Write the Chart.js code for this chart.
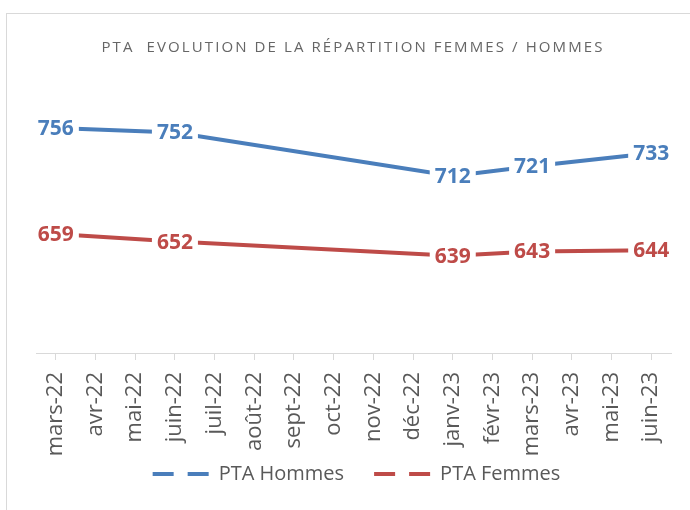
<!DOCTYPE html>
<html>
<head>
<meta charset="utf-8">
<script src="https://cdn.jsdelivr.net/npm/chart.js@4.4.1/dist/chart.umd.min.js"></script>
<style>
  html, body { margin: 0; padding: 0; background: #fff; }
  #wrap { position: absolute; left: 0; top: 0; width: 690px; height: 510px; }
</style>
</head>
<body>
<div id="wrap"><canvas id="chart"></canvas></div>
<script>
// Mois (axe des x)
var mois = ['mars-22', 'avr-22', 'mai-22', 'juin-22', 'juil-22', 'août-22', 'sept-22', 'oct-22',
            'nov-22', 'déc-22', 'janv-23', 'févr-23', 'mars-23', 'avr-23', 'mai-23', 'juin-23'];

// Effectifs (null = pas de relevé ce mois-là)
var hommes = [756, null, null, 752, null, null, null, null, null, null, 712, null, 721, null, null, 733];
var femmes = [659, null, null, 652, null, null, null, null, null, null, 639, null, 643, null, null, 644];

var titre = 'PTA  EVOLUTION DE LA RÉPARTITION FEMMES / HOMMES';

var bleu = '#4A7EBB';
var rouge = '#BE4B48';

// Cadre gris clair + titre
var cadrePlugin = {
    id: 'cadre',
    beforeDraw: function (chart) {
        var ctx = chart.ctx;
        ctx.save();
        ctx.strokeStyle = '#d9d9d9';
        ctx.lineWidth = 1;
        ctx.strokeRect(6.5, 13.5, 720, 600);
        ctx.fillStyle = '#666666';
        ctx.font = '15px "Open Sans"';
        ctx.textAlign = 'center';
        ctx.textBaseline = 'alphabetic';
        ctx.letterSpacing = '2.1px';
        ctx.fillText(titre, 353, 52);
        ctx.restore();
    }
};

// les libellés de l'axe x débordent sur la zone de la légende : on élargit la zone de découpe
var debordPlugin = {
    id: 'debord',
    afterLayout: function (chart) {
        chart.scales.x.bottom = chart.height;
    }
};

// Étiquettes de valeurs centrées sur les points, fond blanc
var etiquettesPlugin = {
    id: 'etiquettes',
    afterDatasetsDraw: function (chart) {
        var ctx = chart.ctx;
        ctx.save();
        ctx.font = 'bold 21px "Open Sans"';
        ctx.textAlign = 'center';
        ctx.textBaseline = 'middle';
        chart.data.datasets.forEach(function (ds, i) {
            var meta = chart.getDatasetMeta(i);
            meta.data.forEach(function (pt, j) {
                var v = ds.data[j];
                if (v === null) return;
                var txt = String(v);
                var w = ctx.measureText(txt).width;
                ctx.fillStyle = '#ffffff';
                ctx.fillRect(pt.x - w / 2 - 5, pt.y - 12, w + 10, 24);
                ctx.fillStyle = ds.borderColor;
                ctx.fillText(txt, pt.x, pt.y + 1);
            });
        });
        ctx.restore();
    }
};

var ctx = document.getElementById('chart').getContext('2d');

new Chart(ctx, {
    type: 'line',
    data: {
        labels: mois,
        datasets: [
            {
                label: 'PTA Hommes',
                data: hommes,
                borderColor: bleu,
                backgroundColor: bleu,
                borderWidth: 4,
                pointRadius: 0,
                spanGaps: true,
                tension: 0
            },
            {
                label: 'PTA Femmes',
                data: femmes,
                borderColor: rouge,
                backgroundColor: rouge,
                borderWidth: 4,
                pointRadius: 0,
                spanGaps: true,
                tension: 0
            }
        ]
    },
    options: {
        responsive: true,
        maintainAspectRatio: false,
        animation: false,
        layout: {
            padding: { top: 80, left: 36, right: 13, bottom: 16 }
        },
        plugins: {
            title: { display: false },
            tooltip: { enabled: false },
            legend: {
                position: 'bottom',
                labels: {
                    usePointStyle: true,
                    pointStyleWidth: 56,
                    boxHeight: 20,
                    padding: 30,
                    color: '#595959',
                    font: { family: '"Open Sans"', size: 20 },
                    generateLabels: function (chart) {
                        var items = Chart.defaults.plugins.legend.labels.generateLabels(chart);
                        items.forEach(function (it) {
                            it.pointStyle = 'line';
                            it.lineDash = [21, 14];
                            it.lineWidth = 4;
                            it.lineCap = 'butt';
                        });
                        return items;
                    }
                }
            }
        },
        scales: {
            x: {
                offset: true,
                grid: {
                    display: true,
                    drawOnChartArea: false,
                    tickLength: 7,
                    color: '#d9d9d9'
                },
                border: { color: '#d9d9d9', width: 1 },
                ticks: {
                    minRotation: 90,
                    maxRotation: 90,
                    padding: 12,
                    autoSkip: false,
                    color: '#595959',
                    font: { family: '"Open Sans"', size: 22 }
                },
                // bas de la zone de tracé à 353 px, juste au-dessus de la légende
                afterFit: function (scale) {
                    var lg = scale.chart.legend;
                    scale.height = (510 - 16 - lg.height) - 353;
                }
            },
            y: {
                display: false,
                min: 550,
                max: 800
            }
        }
    },
    plugins: [cadrePlugin, debordPlugin, etiquettesPlugin]
});
</script>
</body>
</html>
